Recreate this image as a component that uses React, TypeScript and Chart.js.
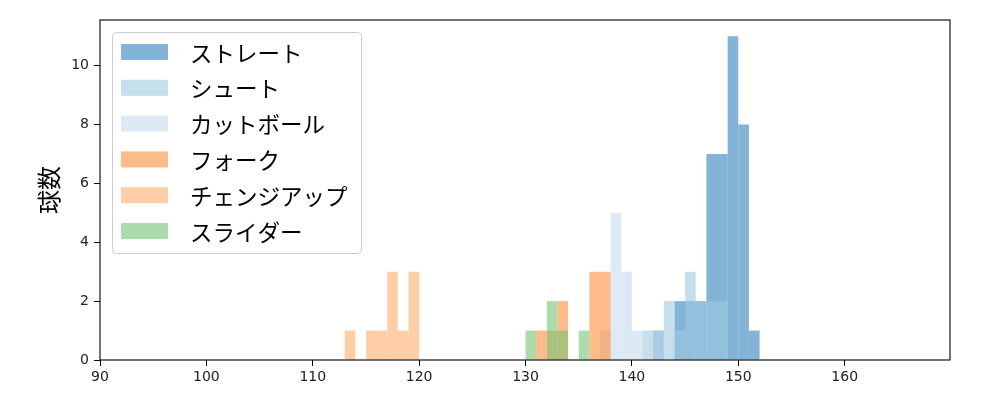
import { useEffect, useRef } from 'react';
import { Chart, registerables } from 'chart.js';

Chart.register(...registerables);

// pitch types, in legend order
const pitchNames = ['ストレート', 'シュート', 'カットボール', 'フォーク', 'チェンジアップ', 'スライダー'];
const pitchColors = [
  'rgba(49, 130, 189, 0.6)',
  'rgba(158, 202, 225, 0.6)',
  'rgba(198, 219, 239, 0.6)',
  'rgba(253, 141, 60, 0.6)',
  'rgba(253, 174, 107, 0.6)',
  'rgba(116, 196, 118, 0.6)',
];

// left edge of each 1 km/h bin, and pitch count in it
const straightBins = [142, 143, 144, 145, 146, 147, 148, 149, 150, 151];
const straightCounts = [1, 0, 2, 2, 2, 7, 7, 11, 8, 1];
const shootBins = [141, 142, 143, 144, 145, 146, 147, 148];
const shootCounts = [1, 0, 2, 1, 3, 2, 2, 2];
const cutBins = [137, 138, 139, 140, 141, 142];
const cutCounts = [1, 5, 3, 1, 0, 1];
const forkBins = [131, 132, 133, 134, 135, 136, 137];
const forkCounts = [1, 1, 2, 0, 0, 3, 3];
const changeupBins = [113, 114, 115, 116, 117, 118, 119];
const changeupCounts = [1, 0, 1, 1, 3, 1, 3];
const sliderBins = [130, 131, 132, 133, 134, 135];
const sliderCounts = [1, 0, 2, 1, 0, 1];

const xTicks = [90, 100, 110, 120, 130, 140, 150, 160];
const yTicks = [0, 2, 4, 6, 8, 10];
const yLabel = '球数';

const allBins = [straightBins, shootBins, cutBins, forkBins, changeupBins, sliderBins];
const allCounts = [straightCounts, shootCounts, cutCounts, forkCounts, changeupCounts, sliderCounts];

const JP_FONT = '"Noto Sans CJK JP", "Noto Sans", sans-serif';
const TICK_FONT = '"DejaVu Sans", sans-serif';

// matplotlib-like frame + legend inside the axes
const framePlugin = {
  id: 'frame',
  afterDatasetsDraw(chart: Chart) {
    const { ctx, chartArea } = chart;
    ctx.save();
    ctx.strokeStyle = '#000';
    ctx.lineWidth = 1.1;
    ctx.strokeRect(chartArea.left, chartArea.top, chartArea.right - chartArea.left, chartArea.bottom - chartArea.top);
    ctx.restore();
  },
  afterDraw(chart: Chart) {
    const { ctx } = chart;
    ctx.save();
    const bx = 112.5, by = 32.5, bw = 249, bh = 221;
    ctx.beginPath();
    ctx.roundRect(bx, by, bw, bh, 4);
    ctx.fillStyle = 'rgba(255,255,255,0.8)';
    ctx.fill();
    ctx.strokeStyle = '#cccccc';
    ctx.lineWidth = 1;
    ctx.stroke();
    ctx.font = `22.5px ${JP_FONT}`;
    ctx.textBaseline = 'middle';
    ctx.textAlign = 'left';
    pitchNames.forEach((name, i) => {
      const cy = 52 + i * 35.8;
      ctx.fillStyle = pitchColors[i];
      ctx.fillRect(121, cy - 8, 47, 16);
      ctx.fillStyle = '#000';
      ctx.fillText(name, 190, cy + 1);
    });
    ctx.restore();
  },
};

export default function App() {
  const canvasRef = useRef<HTMLCanvasElement>(null);

  useEffect(() => {
    if (!canvasRef.current) return;

    const datasets = pitchNames.map((name, i) => ({
      label: name,
      data: allBins[i].map((b, j) => ({ x: b + 0.5, y: allCounts[i][j] })),
      backgroundColor: pitchColors[i],
      borderWidth: 0,
      barPercentage: 1,
      categoryPercentage: 1,
      grouped: false,
      inflateAmount: 0,
      order: pitchNames.length - i, // later series drawn on top
    }));

    const chart = new Chart(canvasRef.current, {
      type: 'bar',
      data: { datasets },
      options: {
        responsive: true,
        maintainAspectRatio: false,
        animation: false,
        layout: { padding: { top: 20, right: 50, left: 0, bottom: 0 } },
        plugins: {
          legend: { display: false },
          tooltip: { enabled: false },
        },
        scales: {
          x: {
            type: 'linear',
            offset: false,
            min: 90,
            max: 169.9,
            afterBuildTicks: (scale: any) => {
              scale.ticks = xTicks.map((v) => ({ value: v }));
            },
            afterFit: (scale: any) => {
              scale.height = 40;
            },
            grid: { offset: false, drawOnChartArea: false, drawTicks: true, tickLength: 6, color: '#000', lineWidth: 1 },
            border: { display: false },
            ticks: {
              color: '#222',
              padding: 3,
              maxRotation: 0,
              font: { family: TICK_FONT, size: 14 },
            },
          },
          y: {
            type: 'linear',
            min: 0,
            max: 11.55,
            afterBuildTicks: (scale: any) => {
              scale.ticks = yTicks.map((v) => ({ value: v }));
            },
            afterFit: (scale: any) => {
              scale.width = 100;
            },
            grid: { drawOnChartArea: false, drawTicks: true, tickLength: 6, color: '#000', lineWidth: 1 },
            border: { display: false },
            ticks: {
              color: '#222',
              padding: 5,
              font: { family: TICK_FONT, size: 14 },
            },
            title: {
              display: true,
              text: yLabel,
              color: '#000',
              font: { family: JP_FONT, size: 24 },
              padding: { top: 34, bottom: 0 },
            },
          },
        },
      },
      plugins: [framePlugin],
    });

    return () => {
      chart.destroy();
    };
  }, []);

  return (
    <div style={{ position: 'absolute', left: 0, top: 0, width: 1000, height: 400, background: '#fff' }}>
      <canvas ref={canvasRef}></canvas>
    </div>
  );
}
